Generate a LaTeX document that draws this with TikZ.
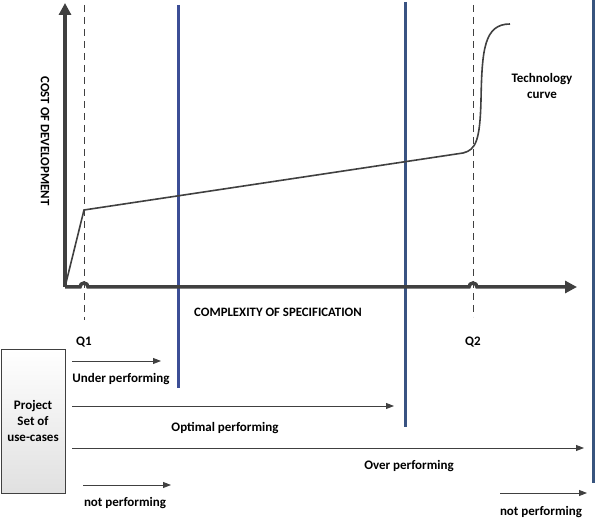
\documentclass[tikz,border=0pt]{standalone}
\usepackage{fontspec}
\setmainfont{Carlito}
\usetikzlibrary{arrows,arrows.meta,positioning}
\definecolor{axisgray}{RGB}{64,64,64}
\definecolor{limitblue}{RGB}{60,78,150}
\definecolor{limitsteel}{RGB}{56,84,126}

\begin{document}
\begin{tikzpicture}[x=1pt,y=-1pt,
                    every node/.style={font=\bfseries\fontsize{13}{15.5}\selectfont,align=center,inner sep=1pt}]
  \tikzstyle{axis}=[line width=3.5pt,draw=axisgray]
  \tikzstyle{bigtip}=[-{Triangle[length=12pt,width=12pt]}]
  \tikzstyle{quality}=[draw=axisgray,line width=0.9pt,dash pattern=on 7pt off 5pt]
  \tikzstyle{limit}=[line width=3pt,draw=limitblue]
  \tikzstyle{spanarrow}=[draw=axisgray,line width=0.9pt,-{Triangle[length=8pt,width=6pt]}]
  \tikzstyle{caps}=[font=\bfseries\fontsize{12.8}{15}\selectfont]

  \useasboundingbox (0,0) rectangle (598,521);

  % performance limits
  \coordinate (l1top) at (178,5);
  \coordinate (l1bot) at (178,388);
  \coordinate (l2top) at (405,2);
  \coordinate (l2bot) at (405,427);
  \coordinate (l3top) at (593,0);
  \coordinate (l3bot) at (593,483);
  \draw[limit] (l1top) -- (l1bot);
  \draw[limit,draw=limitsteel!85!limitblue] (l2top) -- (l2bot);
  \draw[limit,draw=limitsteel] (l3top) -- (l3bot);

  % axes and quality levels
  \coordinate (O)    at (65,287);
  \coordinate (ytip) at (65,3);
  \coordinate (xtip) at (577,287);
  \coordinate (q1top) at (84,5);
  \coordinate (q1bot) at (84,320);
  \coordinate (q2top) at (473,5);
  \coordinate (q2bot) at (473,317);

  \draw[quality] (q1top) -- (q1bot);
  \draw[quality] (q2top) -- (q2bot);

  \draw[axis,bigtip] (O) -- (ytip);
  \draw[axis,bigtip] (O) -- ([xshift=-4]q1bot |- O) arc[start angle=180,end angle=360,radius=4]
        -- ([xshift=-4]q2bot |- O) arc[start angle=180,end angle=360,radius=4] -- (xtip);

  % technology curve
  \coordinate (k1) at (84,210);
  \coordinate (k2) at (463,153);
  \coordinate (k3) at (481,100);
  \coordinate (k4) at (510,24);
  \draw[draw=axisgray,line width=1.6pt] (O) -- (k1) -- (k2)
        .. controls (476,150) and (480,140) .. (k3)
        .. controls (482,50) and (484,24) .. (k4);

  % labels
  \node[caps,rotate=-90] (costlbl) at (45,141) {COST OF DEVELOPMENT};
  \node[caps] (complbl) at (278,312) {COMPLEXITY OF SPECIFICATION};
  \node (techlbl) at (542,86) {Technology\\curve};
  \node (q1lbl) at (84,342) {Q1};
  \node (q2lbl) at (473,342) {Q2};

  \node[draw=axisgray,line width=0.8pt,shade,top color=white,bottom color=black!12,
        minimum width=64,minimum height=144,font=\bfseries\fontsize{13}{16}\selectfont]
        (project) at (33,421) {Project\\Set of\\use-cases};

  % ranges
  \coordinate (u1) at (72,361);  \coordinate (u2) at (161,361);
  \coordinate (o1) at (72,406);  \coordinate (o2) at (394,406);
  \coordinate (v1) at (72,448);  \coordinate (v2) at (584,448);
  \coordinate (n1) at (83,485);  \coordinate (n2) at (171,485);
  \coordinate (m1) at (500,493); \coordinate (m2) at (587,493);

  \draw[spanarrow] (u1) -- (u2);
  \draw[spanarrow] (o1) -- (o2);
  \draw[spanarrow] (v1) -- (v2);
  \draw[spanarrow] (n1) -- (n2);
  \draw[spanarrow] (m1) -- (m2);

  \node (underlbl)   at (121,379) {Under performing};
  \node (optimallbl) at (225,428) {Optimal performing};
  \node (overlbl)    at (409,466) {Over performing};
  \node (notlbl)     at (125,503) {not performing};
  \node (notlbl2)    at (541,512) {not performing};
\end{tikzpicture}
\end{document}
